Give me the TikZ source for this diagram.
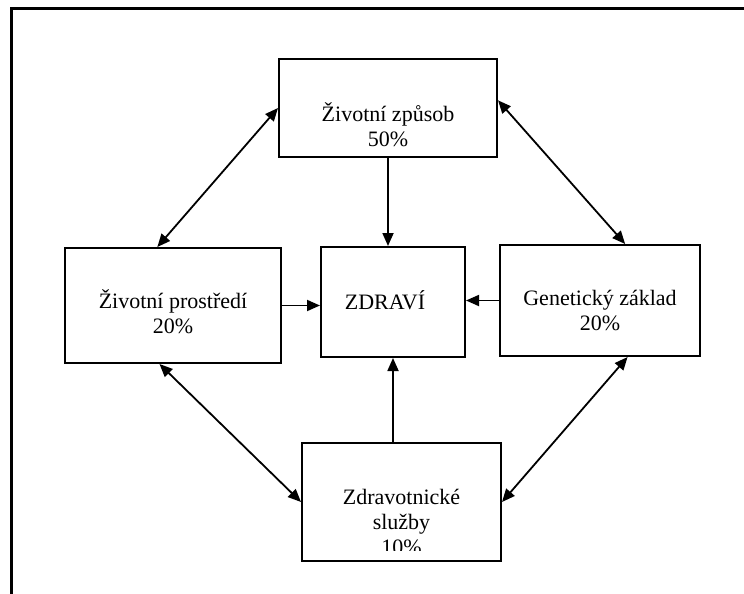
\documentclass[tikz,border=0pt]{standalone}
\usepackage{fontspec}
\setmainfont{Liberation Serif}
\usetikzlibrary{arrows.meta}
\tikzset{
  blk/.style={rectangle, draw, line width=2pt, inner sep=0pt},
  txt/.style={align=center, inner sep=0pt, font=\fontsize{22}{25}\selectfont},
  arr/.style={-{Triangle[length=13pt, width=11pt]}, line width=1.8pt},
  biarr/.style={{Triangle[length=13pt, width=11pt]}-{Triangle[length=13pt, width=11pt]}, line width=1.8pt},
  frm/.style={line width=3pt},
}

\begin{document}
\begin{tikzpicture}[x=1pt, y=-1pt]
  \useasboundingbox (0,0) rectangle (744,594);
  \draw[frm] (11,594) -- (11,9) -- (744,9);
  % boxes
  \node[blk, minimum width=218pt, minimum height=98pt]  (zpusob)    at (388,108)   {};
  \node[blk, minimum width=216pt, minimum height=115pt] (prostredi) at (173,305.5) {};
  \node[blk, minimum width=144pt, minimum height=110pt] (zdravi)    at (393,302)   {};
  \node[blk, minimum width=200pt, minimum height=111pt] (genet)     at (600,300.5) {};
  \node[blk, minimum width=199pt, minimum height=118pt] (sluzby)    at (401.5,502) {};
  % texts
  \node[txt] (zpusobT)    at (388,124.5) {Životní způsob\\50\%};
  \node[txt] (prostrediT) at (173,311.5) {Životní prostředí\\20\%};
  \node[txt] (zdraviT)    at (385,300)   {ZDRAVÍ};
  \node[txt] (genetT)     at (600,310.5) {Genetický základ\\20\%};
  \begin{scope}
    \clip (302,443) rectangle (501,550);
    \node[txt] (sluzbyT) at (401.5,522) {Zdravotnické\\služby\\10\%};
  \end{scope}
  % arrows into ZDRAVI
  \draw[arr] (zpusob.south) -- (zpusob.south |- zdravi.north);
  \draw[arr] (prostredi.east) -- (prostredi.east -| zdravi.west);
  \draw[arr] (genet.west) -- (genet.west -| zdravi.east);
  \draw[arr] (zdravi.south |- sluzby.north) -- (zdravi.south);
  % outer ring
  \draw[biarr] (prostredi.105) -- (zpusob.west);
  \draw[biarr] (zpusob.4) -- (genet.66);
  \draw[biarr] (prostredi.257) -- (sluzby.west);
  \draw[biarr] (genet.296) -- (sluzby.east);
\end{tikzpicture}
\end{document}
